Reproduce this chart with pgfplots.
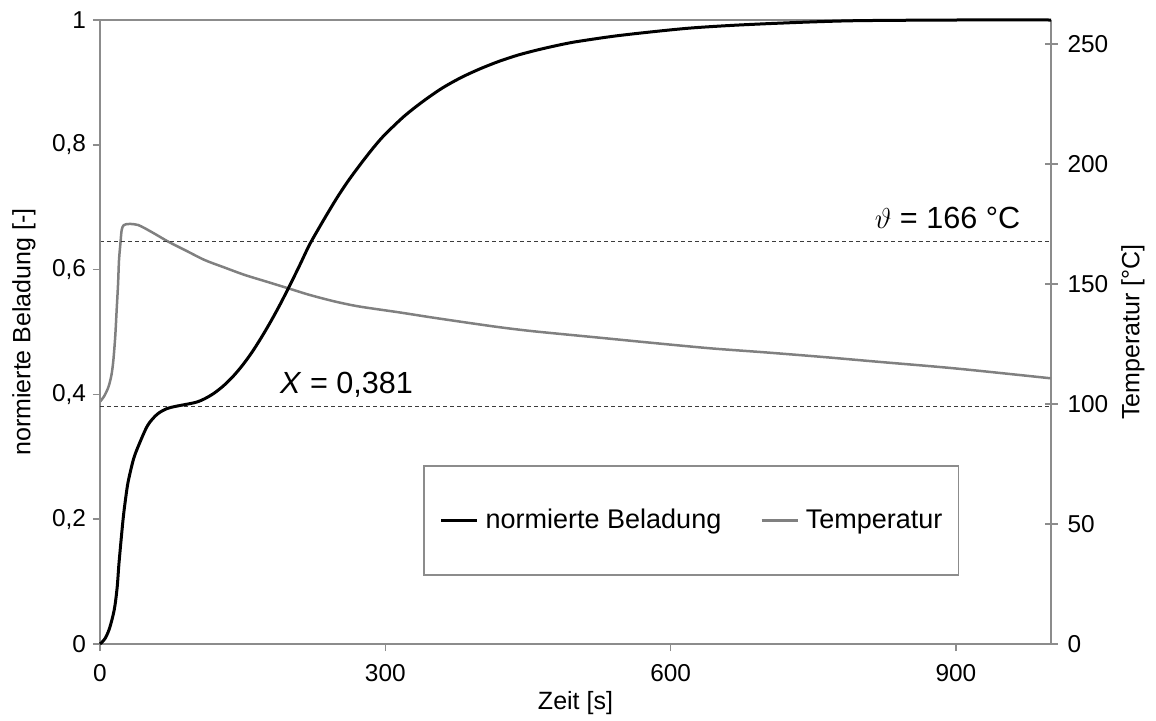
\documentclass[border=0pt]{standalone}
\usepackage{fontspec}
\setmainfont{Liberation Sans}
\usepackage{pgfplots}
\pgfplotsset{compat=1.18}
\definecolor{tempgray}{RGB}{128,128,128}
\definecolor{axgray}{RGB}{140,140,140}
\definecolor{dashc}{RGB}{60,60,60}

\pgfplotsset{
  myaxis/.style={
    scale only axis, width=475.5pt, height=312pt,
    xmin=0, xmax=1000,
    axis line style={axgray, line width=0.8pt},
    tick style={axgray, line width=0.8pt},
    major tick length=3.5pt,
    ticklabel style={font=\fontsize{12.2}{14}\selectfont, text=black},
    label style={font=\fontsize{12.5}{14}\selectfont},
    /pgf/number format/assume math mode=true,
    /pgf/number format/use comma,
    clip=false,
  },
}

\begin{document}
\begin{tikzpicture}
\useasboundingbox (-50pt,-38pt) rectangle (528pt,322pt);
% Temperature axis (right)
\begin{axis}[myaxis,
  axis x line=none,
  axis y line*=right,
  ymin=0, ymax=260,
  ytick={0,50,100,150,200,250},
  yticklabels={0,50,100,150,200,250},
  tick align=center, major tick length=6.5pt,
  yticklabel style={anchor=west, xshift=1.5pt},
  ylabel={Temperatur [°C]},
  ylabel style={at={(axis description cs:1.0862,0.5)}, anchor=center, rotate=0},
]
\addplot[tempgray, line width=1.25pt, smooth] coordinates {
(0,101) (4,103) (8.8,107) (12,112) (14,118) (16,128) (17.5,139) (19,150)
(20,160) (21.5,167) (22.8,172.5) (25,174.5) (30,175) (40,174.6) (55,171.5)
(72,167.6) (90,164) (110,160) (130,157) (152,153.8) (175,151) (198,148.2)
(220,145.5) (246,142.8) (270,140.8) (295,139.3) (316,138.1) (350,136.0)
(386,133.9) (420,132.0) (456,130.3) (526,127.6) (580,125.5) (642,123.2)
(700,121.5) (760,119.6) (818,117.6) (900,114.8) (1000,110.7)
};
\addplot[dashc, line width=0.6pt, dash pattern=on 2pt off 1.5pt] coordinates {(0,167.8) (1000,167.8)};
\node[anchor=base east, inner sep=0pt, font=\fontsize{15.3}{17}\selectfont] at (axis cs:968,173) {$\vartheta$ = 166 °C};
\end{axis}
% Loading axis (left)
\begin{axis}[myaxis,
  axis x line*=bottom,
  axis y line*=left,
  ymin=0, ymax=1,
  ytick={0,0.2,0.4,0.6,0.8,1},
  yticklabels={0,{0,2},{0,4},{0,6},{0,8},1},
  xtick={0,300,600,900},
  xticklabels={0,300,600,900},
  xticklabel style={yshift=-3pt},
  tick align=outside,
  xlabel={Zeit [s]},
  ylabel={normierte Beladung [-]},
  xlabel style={at={(axis description cs:0.5,-0.0946)}, anchor=center},
  ylabel style={at={(axis description cs:-0.0799,0.5)}, anchor=center},
  legend style={
    at={(axis description cs:0.6215,0.198)}, anchor=center,
    draw=axgray, line width=0.8pt,
    font=\fontsize{13.5}{15}\selectfont,
    inner xsep=8pt, inner ysep=21.5pt,
    nodes={inner sep=0pt},
    /tikz/every odd column/.style={column sep=3.5pt},
    /tikz/every even column/.style={column sep=19.5pt},
  },
  legend columns=2,
  legend cell align=left,
  legend image code/.code={\draw[#1] (0pt,0pt) -- (18pt,0pt);},
]
\draw[axgray, line width=0.8pt] (axis cs:0,1) -- (axis cs:1000,1);
\addplot[dashc, line width=0.6pt, dash pattern=on 2pt off 1.5pt, forget plot] coordinates {(0,0.381) (1000,0.381)};
\addplot[black, line width=1.5pt, smooth] coordinates {
(0,0) (5,0.008) (10,0.025) (15,0.055) (18,0.09) (20,0.13) (23,0.18) (25,0.21)
(28,0.245) (30,0.263) (35,0.295) (40,0.316) (50,0.350) (60,0.368) (70,0.377)
(80,0.381) (100,0.387) (110,0.393) (120,0.402) (130,0.414) (140,0.429)
(150,0.447) (160,0.468) (170,0.492) (180,0.518) (190,0.546) (200,0.576)
(210,0.607) (220,0.639) (230,0.666) (240,0.692) (250,0.717) (260,0.740)
(270,0.761) (280,0.781) (290,0.800) (300,0.817) (320,0.846) (340,0.870)
(360,0.891) (380,0.908) (400,0.922) (420,0.934) (440,0.944) (460,0.952)
(480,0.959) (500,0.965) (540,0.974) (580,0.981) (620,0.987) (660,0.991)
(700,0.994) (750,0.997) (800,0.999) (900,1.0) (1000,1.0)
};
\addlegendentry{normierte Beladung}
\addlegendimage{tempgray, line width=1.25pt}
\addlegendentry{Temperatur}
\node[anchor=base west, inner sep=0pt, font=\fontsize{15.3}{17}\selectfont] at (axis cs:189,0.402) {\textit{X} = 0,381};
\end{axis}
\end{tikzpicture}
\end{document}
